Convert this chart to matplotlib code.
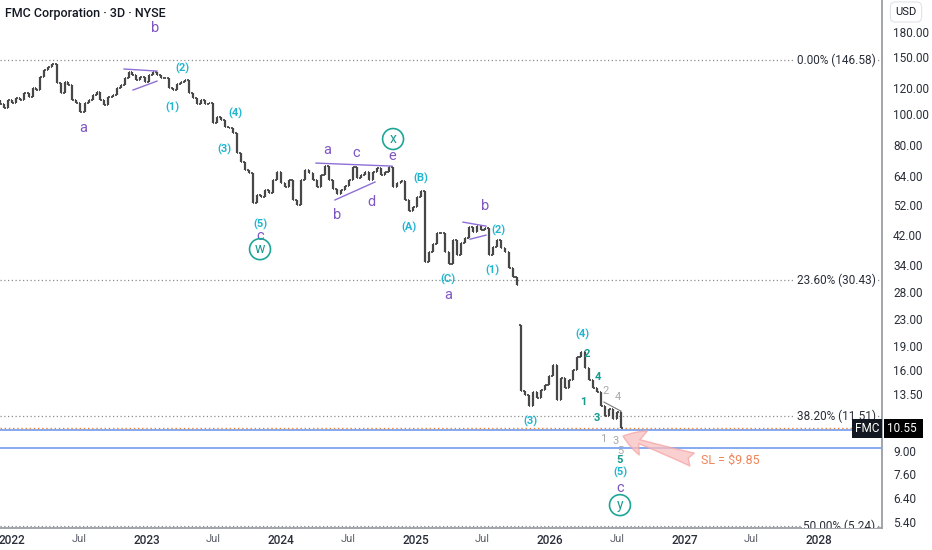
import matplotlib
matplotlib.use("Agg")
import matplotlib.pyplot as plt
import matplotlib.transforms as mtransforms
from matplotlib.ticker import FixedLocator, NullLocator, FuncFormatter
import numpy as np
import pandas as pd

plt.rcParams["font.family"] = ["Roboto", "DejaVu Sans"]

# 3D bars, closes (one value per ~11 days)
CLOSES = [
    107.3, 104.2, 110.3, 108.0, 112.0, 110.3, 116.0, 113.0, 120.3, 118.6,
    130.0, 136.7, 139.7, 142.7, 124.6, 116.1, 125.5, 122.8, 110.4, 108.0,
    101.3, 108.0, 110.3, 114.5, 116.9, 110.3, 106.4, 112.8, 114.5, 120.3,
    122.8, 129.1, 134.7, 131.9, 127.3, 130.0, 125.5, 131.9, 134.7, 131.9,
    129.1, 129.1, 120.3, 118.6, 123.7, 125.5, 127.3, 116.1, 112.0, 107.3,
    110.3, 107.3, 108.0, 93.6, 97.7, 95.8, 90.9, 90.3, 87.2, 75.5,
    70.8, 66.9, 65.5, 52.8, 56.0, 55.1, 58.0, 56.7, 62.3, 65.9,
    60.9, 59.2, 62.3, 54.0, 52.1, 62.3, 66.9, 65.5, 62.3, 59.2,
    64.5, 68.7, 62.3, 58.6, 56.3, 58.0, 59.6, 62.3, 68.3, 63.2,
    64.5, 65.9, 62.3, 65.9, 67.8, 64.5, 65.9, 68.3, 59.2, 60.9,
    61.7, 54.0, 49.9, 51.3, 55.1, 57.6, 34.6, 37.2, 39.4, 42.6,
    42.6, 37.2, 34.1, 40.5, 36.4, 39.7, 41.1, 44.5, 42.9, 44.8,
    43.6, 44.2, 36.4, 38.6, 40.5, 38.3, 37.2, 33.1, 31.1, 29.5,
    13.8, 13.4, 12.4, 13.7, 13.1, 13.9, 14.4, 15.4, 16.6, 12.9,
    15.1, 14.1, 14.9, 16.0, 17.6, 18.2, 16.2, 14.9, 14.1, 13.7,
    12.4, 11.5, 12.1, 11.3, 11.9, 10.55,
]
FIRST_OPEN = 110.0
GAP_INDEX = 130
GAP_OPEN = 22.1

LAST_PRICE = 10.55
FIB_PCTS = [0.0, 23.6, 38.2, 50.0]
FIB_PRICES = [146.58, 30.43, 11.51, 5.24]
BLUE_LEVELS = [10.43, 9.17]
SL_PRICE = 9.85

Y_TICKS = [180, 150, 120, 100, 80, 64, 52, 42, 34, 28, 23, 19, 16, 13.5, 11, 9, 7.6, 6.4, 5.4]
YEARS = [2022, 2023, 2024, 2025, 2026, 2027, 2028]

PURPLE = "#7e57c2"
CYAN = "#22b5cf"
TEAL = "#169a8e"
GREY = "#a9a9a9"

PURPLE_LABELS = [
    ("a", 2022.528, 90.3), ("b", 2023.063, 185.0), ("c", 2023.844, 41.8),
    ("a", 2024.342, 77.2), ("b", 2024.416, 48.5), ("c", 2024.558, 75.5),
    ("d", 2024.669, 53.2), ("e", 2024.825, 73.9), ("a", 2025.242, 27.4),
    ("b", 2025.517, 51.7), ("c", 2026.520, 6.89),
]
CYAN_LABELS = [
    ("(2)", 2023.271, 138.7), ("(1)", 2023.190, 104.9), ("(4)", 2023.658, 100.5),
    ("(3)", 2023.576, 77.7), ("(5)", 2023.844, 45.3), ("(B)", 2025.041, 63.2),
    ("(A)", 2024.952, 44.5), ("(C)", 2025.242, 30.7), ("(2)", 2025.613, 43.6),
    ("(1)", 2025.569, 32.7), ("(4)", 2026.238, 20.6), ("(3)", 2025.851, 11.1),
    ("(5)", 2026.520, 7.72),
]
TEAL_DIGITS = [
    ("2", 2026.275, 17.96), ("4", 2026.357, 15.2), ("1", 2026.245, 12.74),
    ("3", 2026.349, 11.36), ("5", 2026.520, 8.42),
]
GREY_DIGITS = [
    ("2", 2026.416, 13.77), ("4", 2026.506, 13.2), ("1", 2026.394, 9.78),
    ("3", 2026.491, 9.64), ("5", 2026.520, 8.97),
]
CIRCLED = [("w", 2023.844, 38.0), ("x", 2024.833, 83.5), ("y", 2026.520, 6.10)]

TRENDLINES = [
    ((2022.833, 137.7), (2023.078, 135.7)),
    ((2022.900, 118.5), (2023.078, 126.3)),
    ((2024.260, 70.3), (2024.825, 68.8)),
    ((2024.401, 54.0), (2024.699, 61.4)),
    ((2025.353, 46.1), (2025.524, 44.8)),
    ((2025.405, 40.8), (2025.524, 42.0)),
]

fig = plt.figure(figsize=(9.32, 5.5), dpi=100)
ax = fig.add_axes([0, 22 / 550, 882 / 932, 528 / 550])

# OHLC bars
dates = pd.date_range("2021-12-01", periods=len(CLOSES), freq="261h")
xs = np.asarray(dates.year + (dates.dayofyear - 1) / 365.25, dtype=float)
closes = np.array(CLOSES)
opens = np.concatenate([[FIRST_OPEN], closes[:-1]])
opens[GAP_INDEX] = GAP_OPEN
highs = np.maximum(opens, closes)
lows = np.minimum(opens, closes)
bar_col = "#474747"
tick = 0.011
ax.vlines(xs, lows, highs, color=bar_col, lw=1.6, zorder=3)
ax.hlines(opens, xs - tick, xs, color=bar_col, lw=1.3, zorder=3)
ax.hlines(closes, xs, xs + tick, color=bar_col, lw=1.3, zorder=3)

# fib levels
for pct, price in zip(FIB_PCTS, FIB_PRICES):
    ax.axhline(price, color="#8c8c8c", ls=(0, (1, 2)), lw=0.9, zorder=1)
    ax.text(2028.42, price, f"{pct:.2f}% ({price:.2f})", ha="right", va="center",
            fontsize=8.5, color="#2a2e39", zorder=4, clip_on=True,
            bbox=dict(boxstyle="square,pad=0.15", fc="white", ec="none"))

for lvl in BLUE_LEVELS:
    ax.axhline(lvl, color="#6592ee", lw=1.1, zorder=2)
ax.axhline(LAST_PRICE, color="#f08030", ls=(0, (1, 2)), lw=1.0, zorder=2)

for a, b in TRENDLINES:
    ax.plot([a[0], b[0]], [a[1], b[1]], color="#8d6fd6", lw=1.0, zorder=4)
ax.plot([2026.401, 2026.528], [12.74, 11.94], color="#7a7a7a", lw=0.8, zorder=4)

# wave labels
for txt, x, y in PURPLE_LABELS:
    ax.text(x, y, txt, color=PURPLE, fontsize=10.5, ha="center", va="center", zorder=5)
for txt, x, y in CYAN_LABELS:
    ax.text(x, y, txt, color=CYAN, fontsize=8, fontweight="bold", ha="center", va="center", zorder=5)
for txt, x, y in TEAL_DIGITS:
    ax.text(x, y, txt, color=TEAL, fontsize=8, fontweight="bold", ha="center", va="center", zorder=5)
for txt, x, y in GREY_DIGITS:
    ax.text(x, y, txt, color=GREY, fontsize=8, ha="center", va="center", zorder=5)
for txt, x, y in CIRCLED:
    ax.text(x, y, txt, color=TEAL, fontsize=10, ha="center", va="center", zorder=5,
            bbox=dict(boxstyle="circle,pad=0.25", fc="none", ec="#1fa598", lw=1.2))

# stop loss arrow
ax.annotate("", xy=(2026.543, 9.99), xytext=(2027.056, 8.45),
            arrowprops=dict(arrowstyle="fancy,head_length=1.1,head_width=1.3,tail_width=0.7",
                            fc="#f9c0c0", ec="#f4a3a3", alpha=0.75, mutation_scale=14,
                            shrinkA=0, shrinkB=0), zorder=4)
ax.text(2027.123, 8.42, f"SL = ${SL_PRICE:.2f}", color="#f0855a", fontsize=9,
        ha="left", va="center", zorder=5)

# axes
ax.set_yscale("log")
ax.set_ylim(5.18, 225.5)
ax.set_xlim(2021.911, 2028.468)
ax.yaxis.tick_right()
ax.yaxis.set_major_locator(FixedLocator(Y_TICKS))
ax.yaxis.set_minor_locator(NullLocator())
ax.yaxis.set_major_formatter(FuncFormatter(lambda v, _: f"{v:.2f}"))
ax.tick_params(axis="y", length=0, pad=8, labelsize=8.5, labelcolor="#2a2e39")

xt, xl = [], []
for yr in YEARS:
    xt.append(yr)
    xl.append(str(yr))
    if yr + 0.498 < 2028.468:
        xt.append(yr + 0.498)
        xl.append("Jul")
ax.set_xticks(xt)
ax.set_xticklabels(xl)
ax.xaxis.set_minor_locator(NullLocator())
ax.tick_params(axis="x", length=0, pad=4, labelsize=8.5)
for lab in ax.get_xticklabels():
    if lab.get_text() == "Jul":
        lab.set_color("#5d606b")
        lab.set_fontsize(8)
    else:
        lab.set_color("#2a2e39")
        lab.set_fontweight("medium")

for side in ["top", "left"]:
    ax.spines[side].set_visible(False)
for side in ["right", "bottom"]:
    ax.spines[side].set_color("#9a9da5")
    ax.spines[side].set_linewidth(1.3)

# last price tag (drawn over the 11.00 axis label, as in the original)
blend = mtransforms.blended_transform_factory(ax.transAxes, ax.transData)
ax.text(0.997, LAST_PRICE, "FMC", transform=blend, ha="right", va="center", color="white",
        fontsize=8.5, zorder=6, clip_on=False,
        bbox=dict(boxstyle="square,pad=0.25", fc="#131722", ec="none"))
ax.text(1.006, LAST_PRICE, "10.55 ", transform=blend, ha="left", va="center", color="white",
        fontsize=8.5, zorder=6, clip_on=False,
        bbox=dict(boxstyle="square,pad=0.25", fc="#000000", ec="none"))

fig.text(5 / 932, 1 - 13 / 550, "FMC Corporation · 3D · NYSE", fontsize=9,
         color="#131722", fontweight="medium", va="center")
fig.text(906 / 932, 1 - 12 / 550, "USD", fontsize=8, color="#131722", ha="center", va="center",
         bbox=dict(boxstyle="round,pad=0.45", fc="white", ec="#e0e3eb", lw=0.8), zorder=10)

fig.savefig("out.png", dpi=100)
